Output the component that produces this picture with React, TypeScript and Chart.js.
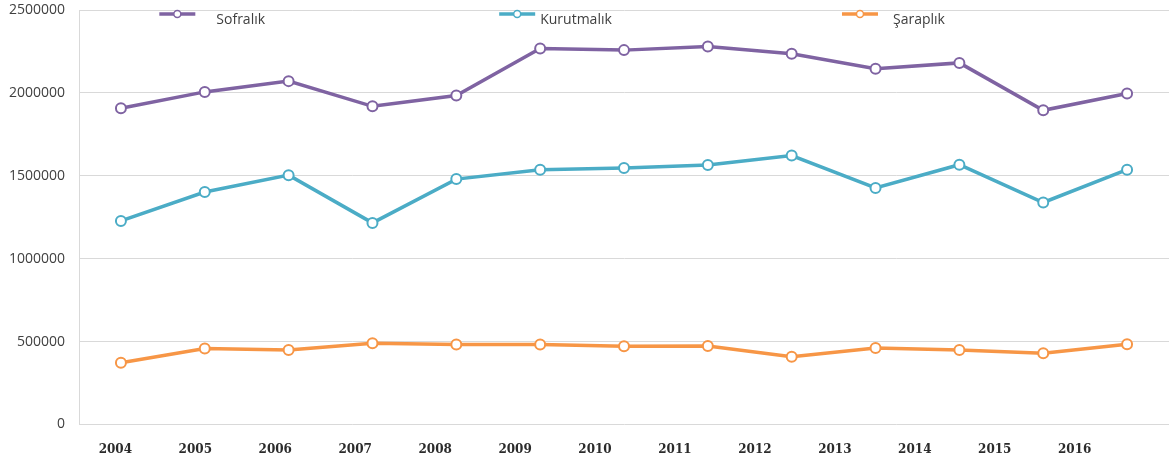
import React, { useEffect, useRef } from "react";
import { Chart, registerables } from "chart.js";

Chart.register(...registerables);

const years = ["2004", "2005", "2006", "2007", "2008", "2009", "2010", "2011", "2012", "2013", "2014", "2015", "2016"];
const sofralik = [1907000, 2006000, 2071000, 1919000, 1984000, 2268000, 2258000, 2280000, 2236000, 2146000, 2181000, 1895000, 1996000];
const kurutmalik = [1228000, 1402000, 1504000, 1216000, 1480000, 1537000, 1547000, 1565000, 1622000, 1427000, 1567000, 1339000, 1537000];
const saraplik = [373000, 458000, 450000, 490000, 482000, 482000, 472000, 474000, 408000, 462000, 450000, 430000, 484000];
const seriesNames = ["Sofralık", "Kurutmalık", "Şaraplık"];
const yTicks = [0, 500000, 1000000, 1500000, 2000000, 2500000];

const COLORS = ["#7f63a2", "#4bacc6", "#f79646"];

const insideLegend = {
  id: "insideLegend",
  afterDraw(chart: any, _args: any, opts: any) {
    const { ctx, chartArea } = chart;
    ctx.save();
    chart.data.datasets.forEach((ds: any, i: number) => {
      const cx = chartArea.left + chartArea.width * opts.symbolX[i];
      const sy = opts.symbolY;
      ctx.strokeStyle = ds.borderColor;
      ctx.lineWidth = 3.5;
      ctx.beginPath();
      ctx.moveTo(cx - 18, sy);
      ctx.lineTo(cx + 18, sy);
      ctx.stroke();
      ctx.beginPath();
      ctx.arc(cx, sy, 3.5, 0, Math.PI * 2);
      ctx.fillStyle = "#ffffff";
      ctx.fill();
      ctx.lineWidth = 1.5;
      ctx.stroke();
      ctx.fillStyle = "#404040";
      ctx.font = "14px 'Open Sans'";
      ctx.textBaseline = "middle";
      ctx.textAlign = "left";
      ctx.fillText(ds.label, cx + opts.textDx[i], opts.textY);
    });
    ctx.restore();
  },
};

export default function App() {
  const ref = useRef<HTMLCanvasElement | null>(null);

  useEffect(() => {
    if (!ref.current) return;
    const values = [sofralik, kurutmalik, saraplik];
    const chart = new Chart(ref.current, {
      type: "line",
      data: {
        labels: years,
        datasets: values.map((v, i) => ({
          label: seriesNames[i],
          data: v,
          borderColor: COLORS[i],
          backgroundColor: COLORS[i],
          borderWidth: 3.5,
          pointRadius: 5,
          pointBorderWidth: 2,
          pointBackgroundColor: "#ffffff",
          pointBorderColor: COLORS[i],
          tension: 0,
          xAxisID: "x",
          yAxisID: "y",
        })),
      },
      options: {
        animation: false,
        responsive: false,
        devicePixelRatio: 1,
        layout: { padding: 0 },
        plugins: {
          legend: { display: false },
          tooltip: { enabled: false },
          insideLegend: {
            symbolX: [0.0902, 0.402, 0.7165],
            textDx: [39, 23, 33],
            symbolY: 14,
            textY: 20,
          },
        } as any,
        scales: {
          x: {
            type: "category",
            offset: true,
            display: false,
          },
          x2: {
            type: "linear",
            position: "bottom",
            min: -0.455,
            max: 13.18,
            afterBuildTicks: (scale: any) => {
              scale.ticks = years.map((_, i) => ({ value: i }));
            },
            afterFit: (scale: any) => {
              scale.height = 34.5;
            },
            grid: { display: false },
            border: { display: false },
            ticks: {
              autoSkip: false,
              maxRotation: 0,
              padding: 10,
              color: "#2b2b2b",
              font: { family: "'DejaVu Serif'", size: 12, weight: "bold" },
              callback: (v: any) => years[Math.round(Number(v))] ?? "",
            },
          },
          y: {
            min: 0,
            max: 2500000,
            afterBuildTicks: (scale: any) => {
              scale.ticks = yTicks.map((t) => ({ value: t }));
            },
            afterFit: (scale: any) => {
              scale.width = 79;
              scale.paddingTop = 10;
            },
            grid: { color: "#d9d9d9", lineWidth: 1, drawTicks: false },
            border: { display: true, color: "#d9d9d9", width: 1 },
            ticks: {
              padding: 14,
              color: "#404040",
              font: { family: "'Open Sans'", size: 14 },
              callback: (v: any) => String(v),
            },
          },
        },
      },
      plugins: [insideLegend],
    } as any);
    return () => chart.destroy();
  }, []);

  return (
    <div
      style={{
        position: "fixed",
        left: 0,
        top: 0,
        width: 1171,
        height: 459,
        overflow: "hidden",
        background: "#ffffff",
      }}
    >
      <canvas ref={ref} width={1176} height={459} style={{ display: "block", width: 1176, height: 459 }} />
    </div>
  );
}
